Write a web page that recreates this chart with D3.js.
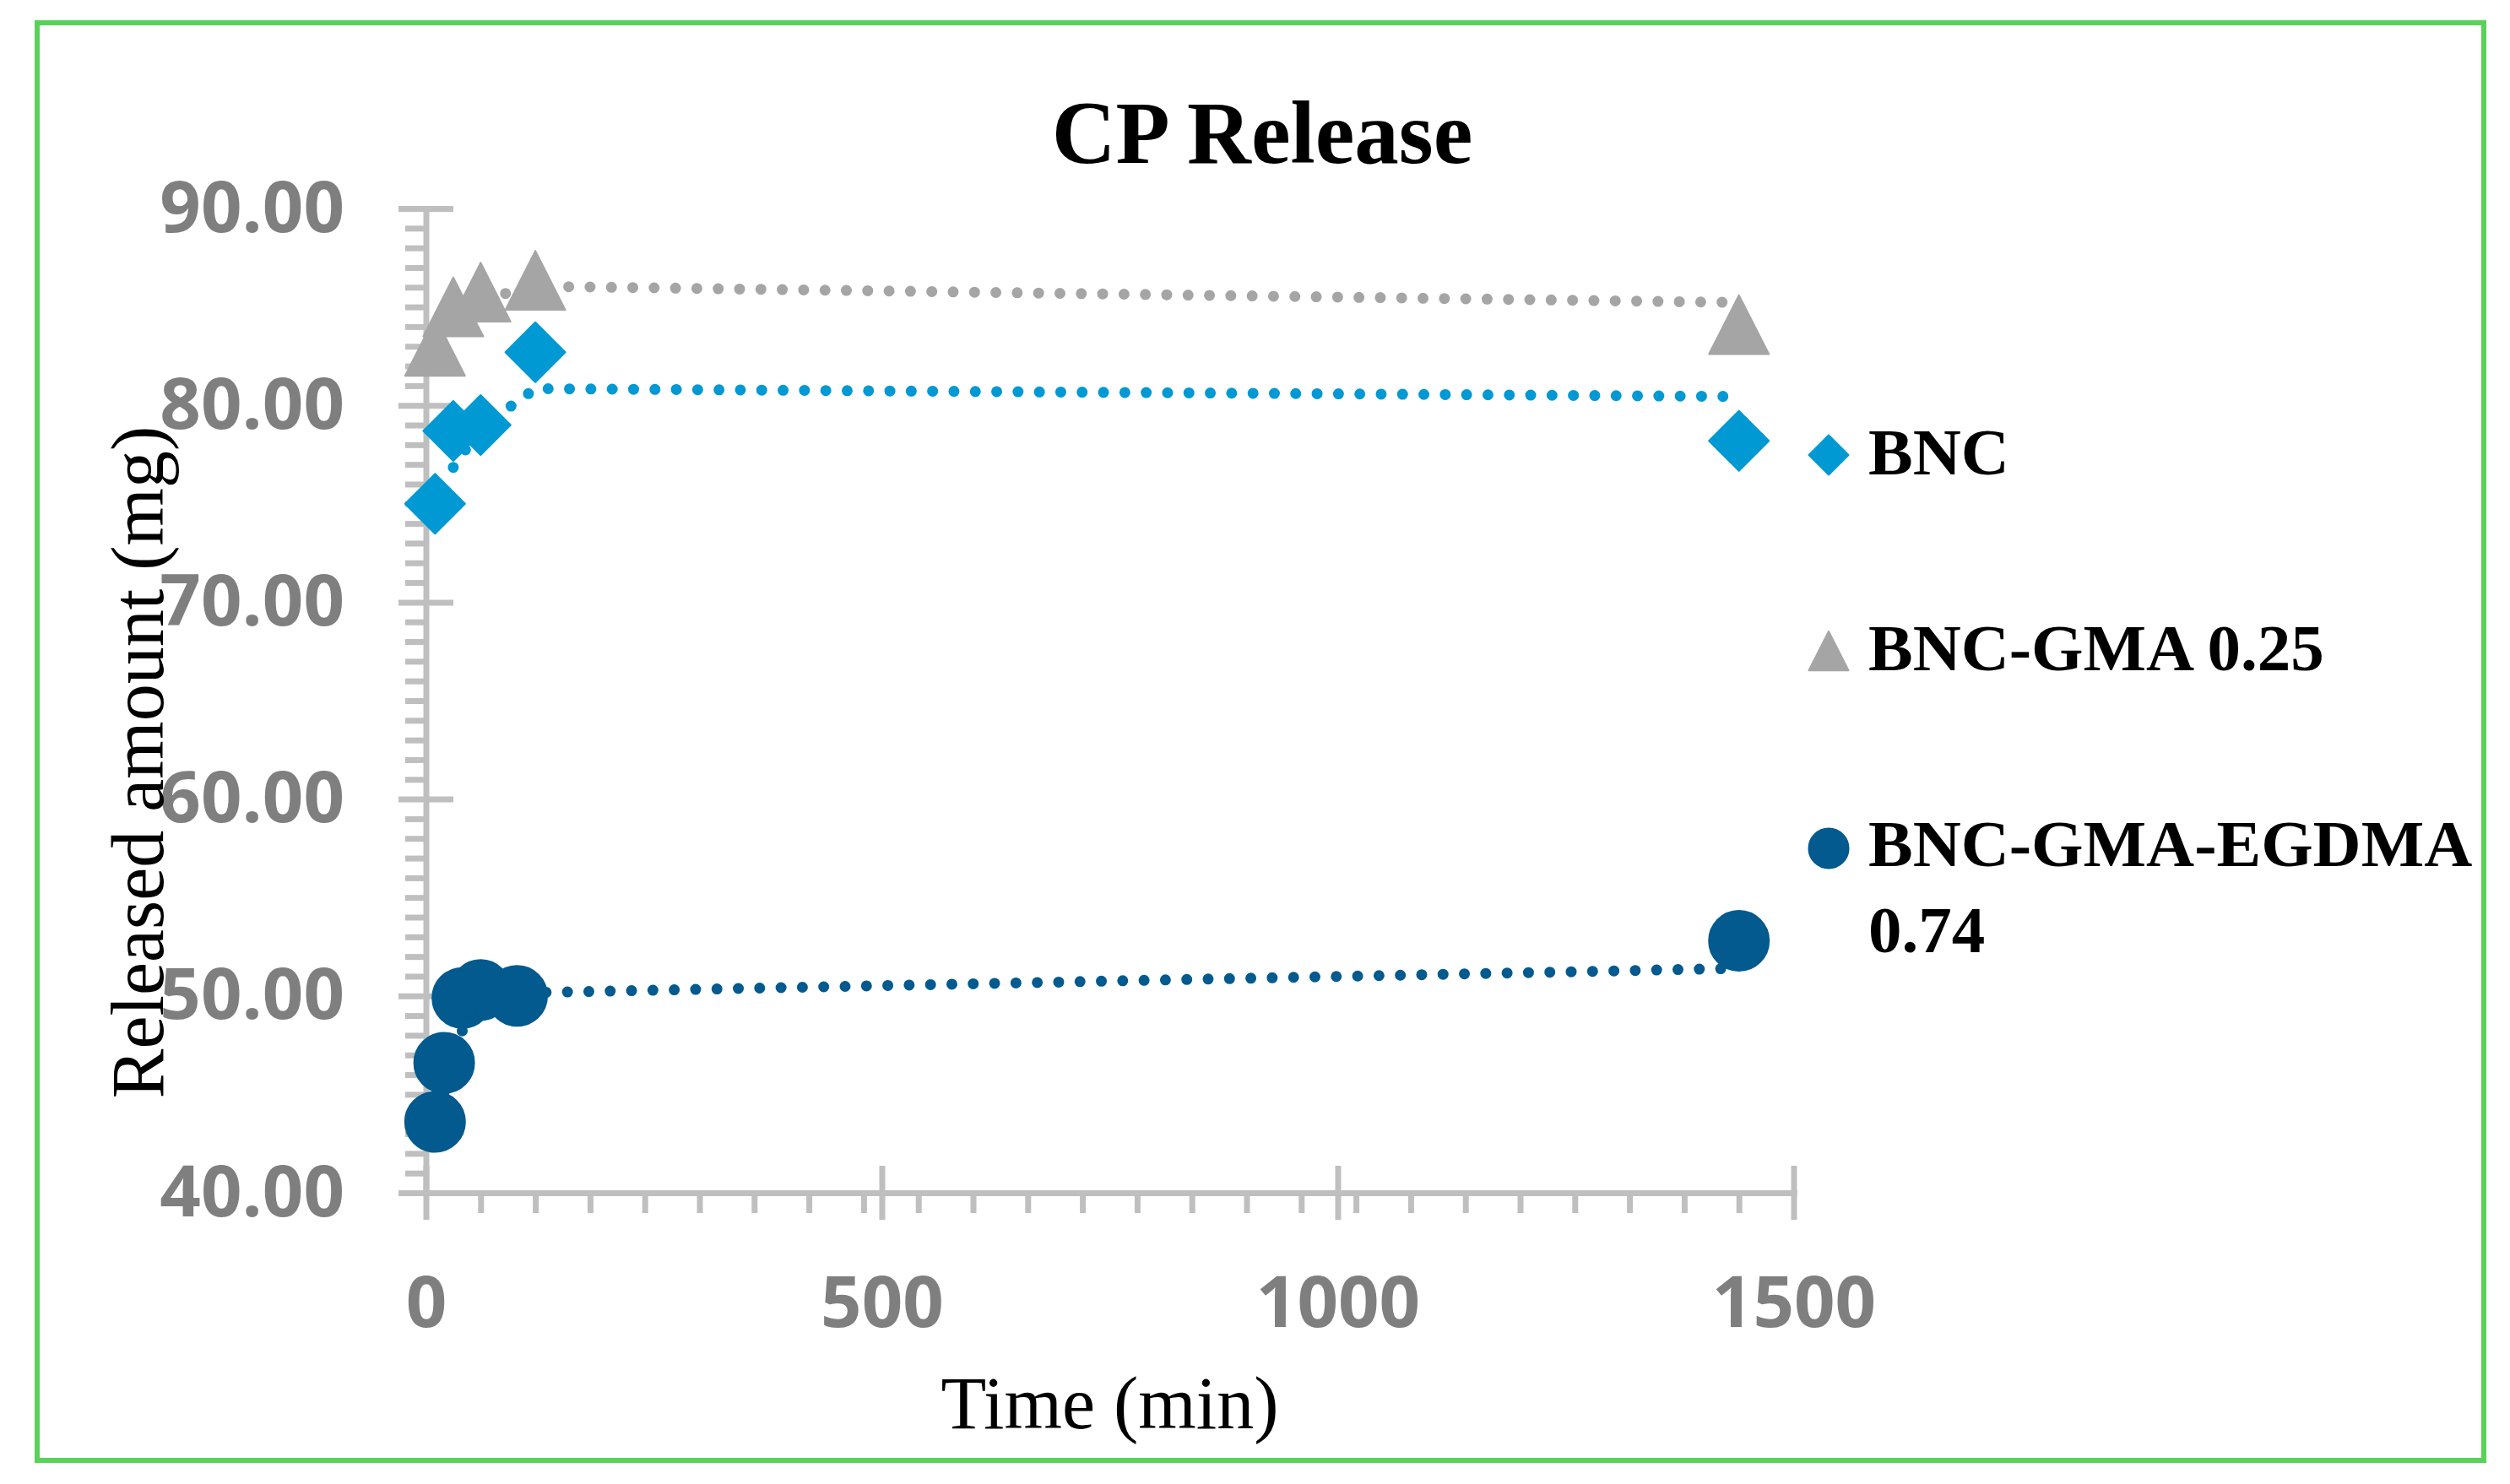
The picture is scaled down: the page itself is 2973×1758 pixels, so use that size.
<!DOCTYPE html>
<html>
<head>
<meta charset="utf-8">
<script src="https://cdn.jsdelivr.net/npm/d3@7"></script>
<style>
  body { margin: 0; background: #fff; }
  .serif { font-family: "Palatino Linotype", "Book Antiqua", Palatino, "Liberation Serif", serif; }
  .tick-label { font-family: "Open Sans", sans-serif; font-weight: 700; font-size: 85px; fill: #7f7f7f; }
</style>
</head>
<body>
<div class="canvas"></div>
<script>
// data
const bncTime = [10, 30, 60, 120, 1440];
const bncValues = [75.0, 78.7, 79.0, 82.7, 78.2];

const gmaTime = [10, 30, 60, 120, 1440];
const gmaValues = [83.0, 85.0, 85.75, 86.35, 84.1];

const egdmaTime = [10, 20, 40, 60, 100, 1440];
const egdmaValues = [43.6, 46.6, 49.9, 50.3, 50.0, 52.8];

const seriesNames = ['BNC', 'BNC-GMA 0.25', 'BNC-GMA-EGDMA 0.74'];

const xTicks = [0, 500, 1000, 1500];
const xMinorTicks = d3.range(60, 1500, 60);
const yTicks = [40, 50, 60, 70, 80, 90];
const yMinorTicks = d3.range(41, 90, 1).filter(v => v % 10 !== 0);

const width = 2973;
const height = 1758;
const margin = { top: 247, right: 848.5, bottom: 345, left: 504.5 };
const graphWidth = width - margin.left - margin.right;
const graphHeight = height - margin.top - margin.bottom;

const svg = d3.select('.canvas')
    .append('svg')
    .attr('width', width)
    .attr('height', height);

// green frame
svg.append('rect')
    .attr('x', 44).attr('y', 27)
    .attr('width', 2942 - 44).attr('height', 1730 - 27)
    .attr('fill', 'none')
    .attr('stroke', '#58d258')
    .attr('stroke-width', 6);

const graph = svg.append('g')
    .attr('transform', `translate(${margin.left}, ${margin.top})`);

// scales
const x = d3.scaleLinear().domain([0, 1500]).range([0, graphWidth]);
const y = d3.scaleLinear().domain([40, 90]).range([graphHeight, 0]);

const axisColor = '#bfbfbf';

// y axis: minor ticks first, then major crossing ticks
const yMinorGroup = graph.append('g')
    .call(d3.axisLeft(y).tickValues(yMinorTicks).tickSize(24.5).tickSizeOuter(0).tickFormat(''));
yMinorGroup.select('.domain').remove();

const yAxisGroup = graph.append('g')
    .call(d3.axisLeft(y).tickValues(yTicks).tickSizeInner(32.5).tickSizeOuter(0)
        .tickFormat(d3.format('.2f')));

yAxisGroup.selectAll('.tick line').attr('x1', 32.5);
yAxisGroup.selectAll('.tick text')
    .attr('class', 'tick-label')
    .attr('x', 408 - margin.left)
    .attr('dy', null)
    .attr('y', 27)
    .attr('text-anchor', 'end');

// x axis
const xMinorGroup = graph.append('g')
    .attr('transform', `translate(0, ${graphHeight})`)
    .call(d3.axisBottom(x).tickValues(xMinorTicks).tickSize(24).tickSizeOuter(0).tickFormat(''));
xMinorGroup.select('.domain').remove();

const xAxisGroup = graph.append('g')
    .attr('transform', `translate(0, ${graphHeight})`)
    .call(d3.axisBottom(x).tickValues(xTicks).tickSizeInner(32).tickSizeOuter(0)
        .tickFormat(d3.format('d')));

xAxisGroup.selectAll('.tick line').attr('y1', -32);
xAxisGroup.selectAll('.tick text')
    .attr('class', 'tick-label')
    .attr('dy', null)
    .attr('y', 159)
    .attr('text-anchor', 'middle');

graph.selectAll('.domain, .tick line')
    .attr('stroke', axisColor)
    .attr('stroke-width', 7);
graph.selectAll('.domain').attr('stroke-linecap', 'square');

// marker shapes
const triangleBox = {
    draw(context, size) {
        const w = size, h = size * 0.985;
        context.moveTo(0, -h / 2);
        context.lineTo(w / 2, h / 2);
        context.lineTo(-w / 2, h / 2);
        context.closePath();
    }
};
const diamondBox = {
    draw(context, size) {
        const r = size / 2;
        context.moveTo(0, -r);
        context.lineTo(r, 0);
        context.lineTo(0, r);
        context.lineTo(-r, 0);
        context.closePath();
    }
};
const circleBox = {
    draw(context, size) {
        const r = size / 2;
        context.moveTo(r, 0);
        context.arc(0, 0, r, 0, 2 * Math.PI);
    }
};

const series = [
    { name: seriesNames[0], time: bncTime, values: bncValues, color: '#0099d3', shape: diamondBox },
    { name: seriesNames[1], time: gmaTime, values: gmaValues, color: '#a5a5a5', shape: triangleBox },
    { name: seriesNames[2], time: egdmaTime, values: egdmaValues, color: '#025a8e', shape: circleBox }
];

// points
series.forEach(s => {
    const pts = s.time.map((t, i) => ({ t, v: s.values[i] }));
    graph.append('g').selectAll('path')
        .data(pts)
        .enter()
        .append('path')
        .attr('transform', d => `translate(${x(d.t)}, ${y(d.v)})`)
        .attr('d', d3.symbol().type(s.shape).size(71))
        .attr('fill', s.color)
        .attr('stroke', s.color)
        .attr('stroke-width', 2)
        .attr('stroke-linejoin', 'round');
});

// moving average (period 2) trendlines, dotted
const line = d3.line()
    .x(d => x(d.t))
    .y(d => y(d.v));

series.forEach(s => {
    const avg = [];
    for (let i = 1; i < s.values.length; i++) {
        avg.push({ t: s.time[i], v: (s.values[i] + s.values[i - 1]) / 2 });
    }
    graph.append('path')
        .datum(avg)
        .attr('fill', 'none')
        .attr('stroke', s.color)
        .attr('stroke-width', 13)
        .attr('stroke-linecap', 'round')
        .attr('stroke-dasharray', '0 25.3')
        .attr('d', line);
});

// title + axis titles
svg.append('text')
    .attr('class', 'serif')
    .attr('x', 1495).attr('y', 193)
    .attr('text-anchor', 'middle')
    .attr('font-size', 105)
    .attr('font-weight', 700)
    .text('CP Release');

svg.append('text')
    .attr('class', 'serif')
    .attr('x', margin.left + graphWidth / 2).attr('y', 1692)
    .attr('text-anchor', 'middle')
    .attr('font-size', 88)
    .text('Time (min)');

svg.append('text')
    .attr('class', 'serif')
    .attr('transform', 'translate(193, 903) rotate(-90)')
    .attr('text-anchor', 'middle')
    .attr('font-size', 88)
    .text('Released amount (mg)');

// legend
const legendRows = [
    { y: 539, lines: ['BNC'], base: [562] },
    { y: 771, lines: ['BNC-GMA 0.25'], base: [794] },
    { y: 1005, lines: ['BNC-GMA-EGDMA', '0.74'], base: [1026, 1128] }
];

legendRows.forEach((row, i) => {
    const s = series[i];
    svg.append('path')
        .attr('transform', `translate(2166, ${row.y})`)
        .attr('d', d3.symbol().type(s.shape).size(47))
        .attr('fill', s.color)
        .attr('stroke', s.color)
        .attr('stroke-width', 2)
        .attr('stroke-linejoin', 'round');
    row.lines.forEach((txt, j) => {
        svg.append('text')
            .attr('class', 'serif')
            .attr('x', 2213).attr('y', row.base[j])
            .attr('font-size', 79)
            .attr('font-weight', 700)
            .text(txt);
    });
});
</script>
</body>
</html>
